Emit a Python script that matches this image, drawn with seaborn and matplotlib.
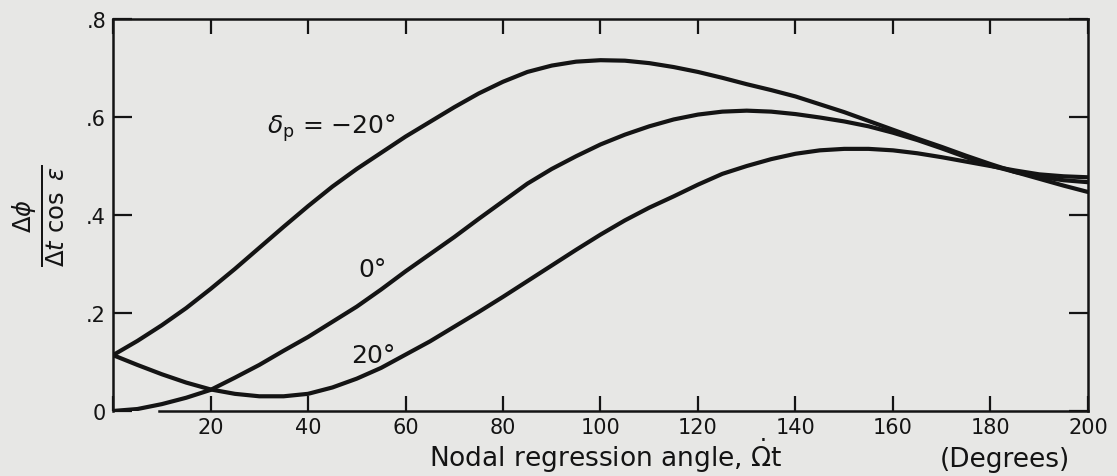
import pandas as pd
import seaborn as sns
import matplotlib.pyplot as plt

# values (every 5 degrees)
angle = list(range(0, 205, 5))

delta_m20 = [0.114, 0.143, 0.175, 0.210, 0.249, 0.290, 0.333, 0.376, 0.418, 0.458,
             0.494, 0.527, 0.560, 0.590, 0.620, 0.648, 0.672, 0.692, 0.705, 0.713,
             0.716, 0.715, 0.710, 0.702, 0.692, 0.680, 0.667, 0.655, 0.642, 0.626,
             0.610, 0.592, 0.574, 0.556, 0.539, 0.521, 0.504, 0.488, 0.474, 0.460,
             0.447]

delta_0 = [0.000, 0.004, 0.014, 0.027, 0.043, 0.068, 0.094, 0.123, 0.151, 0.182,
           0.213, 0.248, 0.285, 0.320, 0.355, 0.392, 0.428, 0.464, 0.494, 0.520,
           0.544, 0.564, 0.581, 0.595, 0.605, 0.611, 0.613, 0.611, 0.606, 0.599,
           0.591, 0.581, 0.568, 0.553, 0.536, 0.518, 0.501, 0.488, 0.478, 0.471,
           0.467]

delta_p20 = [0.114, 0.094, 0.075, 0.058, 0.044, 0.035, 0.030, 0.030, 0.035, 0.048,
             0.066, 0.088, 0.115, 0.142, 0.172, 0.202, 0.233, 0.265, 0.297, 0.329,
             0.360, 0.389, 0.415, 0.438, 0.462, 0.484, 0.500, 0.514, 0.525, 0.532,
             0.535, 0.535, 0.532, 0.526, 0.518, 0.509, 0.500, 0.491, 0.483, 0.479,
             0.477]

curve_names = ["-20", "0", "20"]
x_ticks = [0, 20, 40, 60, 80, 100, 120, 140, 160, 180, 200]
x_ticklabels = ["", "20", "40", "60", "80", "100", "120", "140", "160", "180", "200"]
y_ticks = [0, 0.2, 0.4, 0.6, 0.8]
y_ticklabels = ["0", ".2", ".4", ".6", ".8"]

df = pd.DataFrame({
    "angle": angle * 3,
    "value": delta_m20 + delta_0 + delta_p20,
    "curve": [curve_names[0]] * len(angle) + [curve_names[1]] * len(angle) + [curve_names[2]] * len(angle),
})

sns.set_style("ticks")
plt.rcParams["font.family"] = ["DejaVu Sans"]

bg = "#e7e7e5"
ink = "#141414"

fig, ax = plt.subplots(figsize=(11.17, 4.77), dpi=100)
fig.patch.set_facecolor(bg)
ax.set_facecolor(bg)
fig.subplots_adjust(left=0.1012, right=0.974, bottom=0.1363, top=0.958)

sns.lineplot(data=df, x="angle", y="value", hue="curve", palette=[ink] * 3,
             linewidth=3, legend=False, errorbar=None, ax=ax,
             solid_capstyle="round", solid_joinstyle="round")

ax.set_xlim(0, 200)
ax.set_ylim(0, 0.8)

ax.set_xticks(x_ticks)
ax.set_xticklabels(x_ticklabels)
ax.set_yticks(y_ticks)
ax.set_yticklabels(y_ticklabels)

ax.tick_params(axis="x", direction="in", length=11, width=1.6, top=True,
               labelsize=15, pad=4, colors=ink)
ax.tick_params(axis="y", direction="in", length=14, width=1.6, right=True,
               labelsize=15, pad=5, colors=ink)

for side in ["left", "right", "top", "bottom"]:
    ax.spines[side].set_linewidth(1.8)
    ax.spines[side].set_color(ink)
ax.spines["bottom"].set_bounds(9.4, 200)

# curve labels
ax.text(31.5, 0.58, r"$\delta_{\rm p}$ = −20°", fontsize=18, color=ink, va="center", ha="left")
ax.text(53.3, 0.29, "0°", fontsize=18, color=ink, va="center", ha="center")
ax.text(53.3, 0.115, "20°", fontsize=18, color=ink, va="center", ha="center")

ax.set_ylabel(r"$\frac{\Delta\phi}{\Delta t\ \cos\ \epsilon}$", fontsize=25, color=ink)
ax.yaxis.set_label_coords(-0.047, 0.5)

ax.set_xlabel(r"Nodal regression angle, $\dot{\Omega}$t", fontsize=19, color=ink)
ax.xaxis.set_label_coords(0.505, -0.062)
ax.text(0.915, -0.122, "(Degrees)", transform=ax.transAxes, fontsize=19,
        color=ink, ha="center", va="center")

plt.savefig("out.png", dpi=100, facecolor=bg)
